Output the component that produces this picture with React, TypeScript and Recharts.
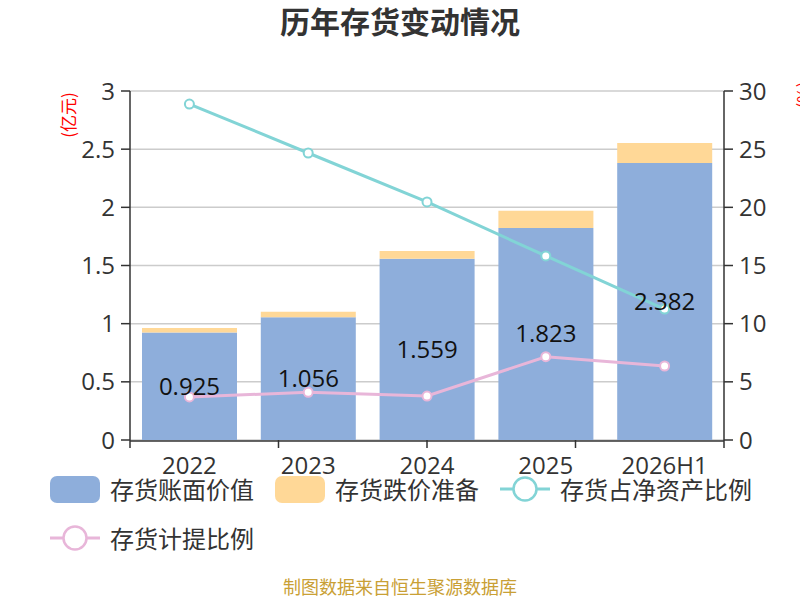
import React from 'react';
import {
  ComposedChart,
  Bar,
  Line,
  XAxis,
  YAxis,
  CartesianGrid,
  Legend,
  LabelList,
} from 'recharts';

const categories = ['2022', '2023', '2024', '2025', '2026H1'];
const bookValue = [0.925, 1.056, 1.559, 1.823, 2.382];
const reserve = [0.038, 0.047, 0.066, 0.148, 0.171];
const netAssetRatio = [28.88, 24.67, 20.46, 15.82, 11.26];
const provisionRatio = [3.7, 4.1, 3.78, 7.16, 6.36];

const leftTicks = [0, 0.5, 1, 1.5, 2, 2.5, 3];
const rightTicks = [0, 5, 10, 15, 20, 25, 30];
const boundaryTicks = [0, 1, 2, 3, 4, 5];

const legendOrder = ['存货账面价值', '存货跌价准备', '存货占净资产比例', '存货计提比例'];

const COLORS = {
  book: '#8eaedb',
  reserve: '#ffd897',
  net: '#82d4d6',
  prov: '#e8b6d9',
};

const FONT = "'Open Sans', 'Noto Sans CJK SC', sans-serif";
const CJK = "'Noto Sans CJK SC', 'Open Sans', sans-serif";

const data = categories.map((name, i) => ({
  name,
  book: bookValue[i],
  reserve: reserve[i],
  net: netAssetRatio[i],
  prov: provisionRatio[i],
}));

const renderLegend = (props: any) => {
  const payload = [...(props.payload || [])].sort(
    (a: any, b: any) => legendOrder.indexOf(a.value) - legendOrder.indexOf(b.value)
  );
  return (
    <div
      style={{
        display: 'flex',
        flexWrap: 'wrap',
        rowGap: 11,
        columnGap: 21,
        width: 720,
        fontFamily: CJK,
        fontSize: 24,
        color: '#333',
      }}
    >
      {payload.map((entry: any, idx: number) => (
        <div
          key={idx}
          style={{ display: 'flex', alignItems: 'center', height: 38 }}
        >
          <svg width={50} height={30} style={{ marginRight: 10 }}>
            {entry.type === 'rect' ? (
              <rect x={0} y={2} width={50} height={27} rx={7} fill={entry.color} />
            ) : (
              <g>
                <line x1={0} y1={15} x2={50} y2={15} stroke={entry.color} strokeWidth={3} />
                <circle cx={25} cy={15} r={11.5} fill="#fff" stroke={entry.color} strokeWidth={2.5} />
              </g>
            )}
          </svg>
          <span style={{ lineHeight: '38px' }}>{entry.value}</span>
        </div>
      ))}
    </div>
  );
};

const EmptyTick = () => <g />;

export default function App() {
  return (
    <div style={{ position: 'absolute', left: 0, top: 0, width: 800, height: 600, background: '#fff' }}>
      <ComposedChart
        width={800}
        height={600}
        data={data}
        margin={{ top: 91, right: 0, bottom: 29, left: 0 }}
      >
        <CartesianGrid yAxisId="left" vertical={false} stroke="#cccccc" strokeWidth={1.5} />
        <XAxis
          xAxisId={0}
          type="number"
          domain={[0, 5]}
          ticks={boundaryTicks}
          height={1}
          tick={EmptyTick}
          axisLine={false}
          tickLine={{ stroke: '#333', strokeWidth: 1.5 }}
          tickSize={8}
          interval={0}
          allowDataOverflow
        />
        <XAxis
          xAxisId="cat"
          dataKey="name"
          height={30}
          tickLine={false}
          tickSize={8}
          tickMargin={8}
          axisLine={{ stroke: '#333', strokeWidth: 1.5 }}
          tick={{ fill: '#333', fontSize: 24, fontFamily: FONT }}
          interval={0}
        />
        <YAxis
          yAxisId="left"
          width={130}
          domain={[0, 3]}
          ticks={leftTicks}
          tickSize={9}
          tickMargin={6}
          axisLine={{ stroke: '#333', strokeWidth: 1.5 }}
          tickLine={{ stroke: '#333', strokeWidth: 1.5 }}
          tick={{ fill: '#333', fontSize: 24, fontFamily: FONT }}
          interval={0}
        />
        <YAxis
          yAxisId="right"
          orientation="right"
          width={76}
          domain={[0, 30]}
          ticks={rightTicks}
          tickSize={9}
          tickMargin={6}
          axisLine={{ stroke: '#333', strokeWidth: 1.5 }}
          tickLine={{ stroke: '#333', strokeWidth: 1.5 }}
          tick={{ fill: '#333', fontSize: 24, fontFamily: FONT }}
          interval={0}
        />
        <Bar
          xAxisId="cat"
          yAxisId="left"
          dataKey="book"
          name="存货账面价值"
          stackId="a"
          barSize={95}
          fill={COLORS.book}
          isAnimationActive={false}
        >
          <LabelList
            dataKey="book"
            position="center"
            fill="#111"
            fontSize={24}
            fontFamily={FONT}
          />
        </Bar>
        <Bar
          xAxisId="cat"
          yAxisId="left"
          dataKey="reserve"
          name="存货跌价准备"
          stackId="a"
          barSize={95}
          fill={COLORS.reserve}
          isAnimationActive={false}
        />
        <Line
          xAxisId="cat"
          yAxisId="right"
          dataKey="net"
          name="存货占净资产比例"
          stroke={COLORS.net}
          strokeWidth={3}
          dot={{ r: 4.5, fill: '#fff', stroke: COLORS.net, strokeWidth: 2 }}
          isAnimationActive={false}
        />
        <Line
          xAxisId="cat"
          yAxisId="right"
          dataKey="prov"
          name="存货计提比例"
          stroke={COLORS.prov}
          strokeWidth={3}
          dot={{ r: 4.5, fill: '#fff', stroke: COLORS.prov, strokeWidth: 2 }}
          isAnimationActive={false}
        />
        <Legend
          verticalAlign="bottom"
          height={100}
          width={720}
          wrapperStyle={{ left: 50, top: 470, bottom: 'auto' }}
          content={renderLegend}
        />
      </ComposedChart>
      <svg
        width={800}
        height={600}
        style={{ position: 'absolute', left: 0, top: 0, pointerEvents: 'none' }}
      >
        <text
          x={400}
          y={33}
          textAnchor="middle"
          fontSize={30}
          fontWeight="bold"
          fill="#333"
          fontFamily={CJK}
        >
          历年存货变动情况
        </text>
        <text
          x={75}
          y={115}
          textAnchor="middle"
          fontSize={17}
          fill="#ff0000"
          fontFamily={CJK}
          transform="rotate(-90 75 115)"
        >
          (亿元)
        </text>
        <text
          x={810}
          y={95}
          textAnchor="middle"
          fontSize={17}
          fill="#ff0000"
          fontFamily={CJK}
          transform="rotate(-90 810 95)"
        >
          (%)
        </text>
        <text
          x={400}
          y={594}
          textAnchor="middle"
          fontSize={18}
          fill="#c9a035"
          fontFamily={CJK}
        >
          制图数据来自恒生聚源数据库
        </text>
      </svg>
    </div>
  );
}
